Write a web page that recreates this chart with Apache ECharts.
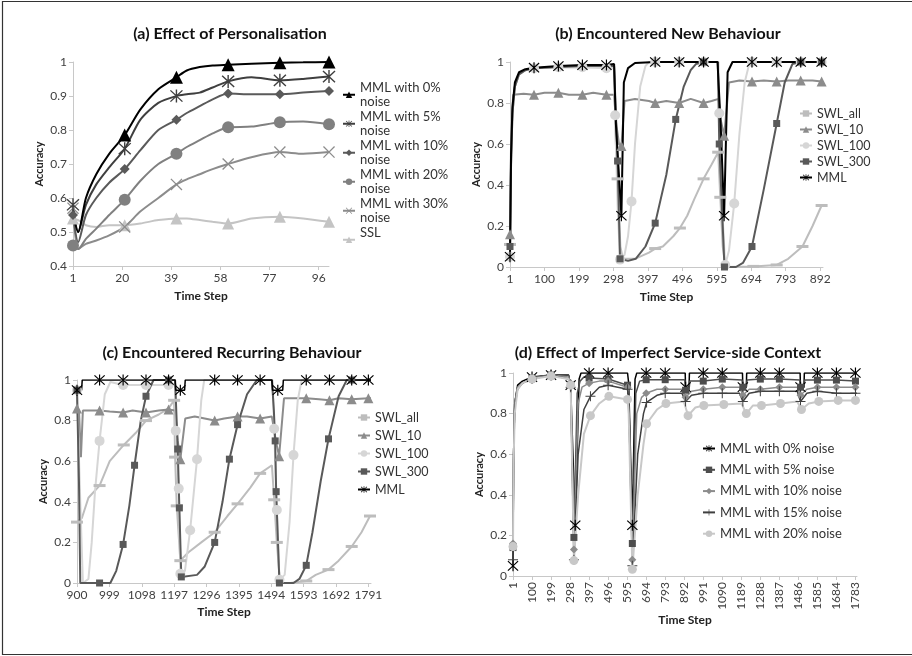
<!DOCTYPE html>
<html>
<head>
<meta charset="utf-8">
<script src="https://cdn.jsdelivr.net/npm/echarts@6/dist/echarts.min.js"></script>
<style>
  html, body { margin: 0; padding: 0; background: #fff; }
  #chart { width: 912px; height: 656px; }
</style>
</head>
<body>
<div id="chart"></div>
<script>
// fonts / colours
const FONT = 'Lato, "Open Sans", sans-serif';
const AXIS_GREY = '#c8c8c8';
const LABEL = '#404040';

// excel-like markers
const STAR = 'path://M9,0L11,0L11,20L9,20Z M0.7,2.1L2.1,0.7L19.3,17.9L17.9,19.3Z M17.9,0.7L19.3,2.1L2.1,19.3L0.7,17.9Z';
const CROSS = 'path://M0.7,2.1L2.1,0.7L19.3,17.9L17.9,19.3Z M17.9,0.7L19.3,2.1L2.1,19.3L0.7,17.9Z';
const PLUS = 'path://M9,0L11,0L11,20L9,20Z M0,9L20,9L20,11L0,11Z';

// ---- (a) Effect of Personalisation ----
const aSteps = [1, 3, 6, 10, 15, 21, 27, 34, 41, 45, 50, 55, 61, 70, 81, 90, 100];
const aMarks = [1, 21, 41, 61, 81, 100];
const aMarks0 = [21, 41, 61, 81, 100];
const aMml0  = [0.55, 0.50, 0.60, 0.67, 0.73, 0.785, 0.86, 0.92, 0.955, 0.975, 0.985, 0.99, 0.992, 0.995, 0.998, 0.999, 1.0];
const aMml5  = [0.58, 0.50, 0.58, 0.64, 0.69, 0.745, 0.83, 0.88, 0.90, 0.905, 0.91, 0.925, 0.943, 0.955, 0.946, 0.95, 0.957];
const aMml10 = [0.55, 0.47, 0.55, 0.60, 0.645, 0.685, 0.74, 0.80, 0.83, 0.85, 0.87, 0.89, 0.907, 0.905, 0.905, 0.91, 0.915];
const aMml20 = [0.46, 0.45, 0.48, 0.51, 0.55, 0.595, 0.65, 0.70, 0.73, 0.75, 0.77, 0.79, 0.808, 0.81, 0.823, 0.825, 0.817];
const aMml30 = [0.57, 0.45, 0.465, 0.475, 0.49, 0.515, 0.56, 0.60, 0.64, 0.655, 0.67, 0.685, 0.70, 0.72, 0.735, 0.73, 0.735];
const aSsl   = [0.54, 0.535, 0.52, 0.515, 0.52, 0.52, 0.525, 0.535, 0.54, 0.54, 0.535, 0.53, 0.525, 0.54, 0.545, 0.54, 0.53];

// ---- (b) Encountered New Behaviour ----
const bAllSteps = [1, 4, 8, 15, 27, 45, 70, 140, 209, 278, 300, 305, 310, 318, 325, 360, 400, 418, 440, 470, 489, 510, 530, 557, 580, 599, 602, 605, 612, 620, 700, 767, 800, 841, 870, 896, 900];
const bAllVals  = [0.11, 0.5, 0.75, 0.88, 0.94, 0.96, 0.97, 0.975, 0.975, 0.975, 0.975, 0.6, 0.43, 0.1, 0.04, 0.04, 0.07, 0.09, 0.1, 0.15, 0.19, 0.25, 0.33, 0.43, 0.5, 0.56, 0.45, 0.34, 0.1, 0.0, 0.003, 0.01, 0.04, 0.1, 0.2, 0.3, 0.3];
const bAllMarks = [1, 310, 418, 489, 557, 599, 605, 700, 767, 841, 896];

const b10Steps = [1, 4, 10, 40, 70, 100, 140, 170, 209, 240, 278, 300, 306, 314, 321, 330, 360, 400, 418, 450, 487, 520, 557, 580, 600, 606, 616, 630, 660, 696, 730, 767, 800, 836, 870, 896, 900];
const b10Vals  = [0.16, 0.6, 0.84, 0.845, 0.84, 0.85, 0.85, 0.84, 0.84, 0.85, 0.84, 0.84, 0.7, 0.6, 0.59, 0.81, 0.82, 0.81, 0.8, 0.81, 0.8, 0.82, 0.8, 0.81, 0.82, 0.72, 0.64, 0.9, 0.91, 0.905, 0.91, 0.905, 0.91, 0.91, 0.91, 0.905, 0.9];
const b10Marks = [1, 70, 140, 209, 278, 321, 418, 487, 557, 616, 696, 767, 836, 896];

const b100Steps = [1, 4, 8, 15, 27, 45, 70, 140, 209, 278, 300, 303, 310, 317, 330, 340, 350, 360, 375, 390, 400, 418, 487, 557, 600, 602, 610, 619, 630, 645, 660, 675, 688, 696, 767, 836, 896, 900];
const b100Vals  = [0.05, 0.5, 0.75, 0.88, 0.94, 0.96, 0.97, 0.975, 0.975, 0.97, 0.97, 0.74, 0.3, 0.036, 0.06, 0.15, 0.32, 0.6, 0.88, 0.98, 1, 1, 1, 1, 1, 0.75, 0.3, 0.01, 0.08, 0.31, 0.65, 0.9, 0.99, 1, 1, 1, 1, 1];
const b100Marks = [1, 70, 140, 209, 278, 303, 317, 350, 418, 487, 557, 602, 619, 645, 696, 767, 836, 896];

const b300Steps = [1, 4, 8, 15, 27, 45, 70, 140, 209, 278, 300, 310, 317, 340, 362, 390, 418, 450, 477, 500, 520, 535, 557, 598, 602, 617, 650, 670, 696, 730, 767, 790, 812, 836, 896, 900];
const b300Vals  = [0.1, 0.5, 0.75, 0.88, 0.94, 0.96, 0.97, 0.975, 0.98, 0.98, 0.98, 0.517, 0.04, 0.03, 0.04, 0.1, 0.214, 0.45, 0.72, 0.88, 0.96, 0.99, 1, 1, 0.6, 0.0, 0.0, 0.02, 0.1, 0.38, 0.70, 0.9, 0.99, 1, 1, 1];
const b300Marks = [1, 310, 317, 418, 477, 557, 602, 617, 696, 767, 836, 896];

const bMmlSteps = [1, 4, 8, 15, 27, 45, 70, 140, 209, 278, 300, 305, 321, 328, 340, 360, 418, 487, 557, 597, 606, 616, 626, 640, 696, 767, 836, 896, 900];
const bMmlVals  = [0.05, 0.55, 0.78, 0.9, 0.95, 0.965, 0.972, 0.98, 0.985, 0.985, 0.99, 0.7, 0.25, 0.9, 0.97, 0.995, 1, 1, 1, 1, 0.7, 0.25, 0.95, 1, 1, 1, 1, 1, 1];
const bMmlMarks = [1, 70, 140, 209, 278, 321, 418, 487, 557, 616, 696, 767, 836, 896];

// ---- (c) Encountered Recurring Behaviour ----
const cAllSteps = [900, 915, 935, 969, 1000, 1043, 1080, 1111, 1150, 1180, 1197, 1200, 1205, 1216, 1240, 1280, 1321, 1360, 1391, 1430, 1460, 1496, 1503, 1511, 1521, 1552, 1601, 1630, 1669, 1700, 1740, 1770, 1796, 1799];
const cAllVals  = [0.30, 0.32, 0.42, 0.48, 0.6, 0.68, 0.74, 0.80, 0.83, 0.86, 0.90, 0.62, 0.38, 0.11, 0.15, 0.2, 0.25, 0.33, 0.39, 0.47, 0.54, 0.58, 0.41, 0.2, 0.0, 0.0, 0.01, 0.04, 0.066, 0.11, 0.18, 0.25, 0.33, 0.33];
const cAllMarks = [900, 969, 1043, 1111, 1197, 1200, 1205, 1216, 1321, 1391, 1460, 1503, 1511, 1601, 1669, 1740, 1796];

const c10Steps = [900, 906, 912, 918, 969, 1000, 1041, 1070, 1111, 1150, 1180, 1200, 1208, 1216, 1231, 1260, 1321, 1350, 1391, 1420, 1460, 1496, 1508, 1518, 1533, 1560, 1601, 1640, 1672, 1700, 1740, 1791, 1799];
const c10Vals  = [0.86, 0.85, 0.62, 0.85, 0.85, 0.845, 0.84, 0.85, 0.84, 0.85, 0.855, 0.85, 0.7, 0.61, 0.81, 0.82, 0.80, 0.81, 0.82, 0.82, 0.81, 0.82, 0.7, 0.625, 0.91, 0.91, 0.91, 0.905, 0.90, 0.91, 0.905, 0.91, 0.91];
const c10Marks = [900, 969, 1041, 1111, 1180, 1216, 1321, 1391, 1460, 1518, 1601, 1672, 1740, 1791];

const c100Steps = [900, 910, 918, 935, 945, 955, 969, 985, 1002, 1041, 1111, 1180, 1200, 1202, 1211, 1216, 1230, 1246, 1267, 1280, 1289, 1321, 1391, 1460, 1498, 1503, 1511, 1519, 1535, 1550, 1562, 1575, 1587, 1601, 1672, 1740, 1791, 1799];
const c100Vals  = [0.95, 0.4, 0.0, 0.02, 0.2, 0.45, 0.70, 0.93, 0.99, 0.975, 0.975, 0.975, 0.975, 0.75, 0.465, 0.046, 0.06, 0.26, 0.61, 0.9, 1.0, 1, 1, 1, 1, 0.76, 0.36, 0.016, 0.04, 0.3, 0.63, 0.9, 1.0, 1, 1, 1, 1, 1];
const c100Marks = [900, 969, 1041, 1111, 1180, 1202, 1211, 1216, 1246, 1267, 1503, 1511, 1519, 1562];

const c300Steps = [900, 906, 910, 969, 1002, 1020, 1041, 1060, 1076, 1095, 1111, 1134, 1180, 1200, 1208, 1213, 1219, 1267, 1290, 1321, 1345, 1366, 1391, 1420, 1450, 1496, 1502, 1506, 1509, 1519, 1562, 1580, 1601, 1620, 1645, 1669, 1700, 1725, 1740, 1791, 1799];
const c300Vals  = [0.95, 0.5, 0.0, 0.0, 0.0, 0.06, 0.19, 0.38, 0.58, 0.8, 0.92, 1.0, 1.0, 1.0, 0.66, 0.37, 0.03, 0.04, 0.08, 0.2, 0.4, 0.61, 0.78, 0.93, 1.0, 1.0, 0.85, 0.70, 0.45, 0.0, 0.0, 0.02, 0.087, 0.25, 0.5, 0.71, 0.92, 1.0, 1.0, 1.0, 1.0];
const c300Marks = [900, 969, 1041, 1076, 1111, 1180, 1208, 1213, 1219, 1321, 1366, 1391, 1506, 1509, 1519, 1601, 1669, 1740];

const cMmlSteps = [900, 914, 916, 969, 1041, 1111, 1180, 1200, 1202, 1216, 1229, 1231, 1321, 1391, 1460, 1496, 1498, 1514, 1529, 1531, 1601, 1672, 1740, 1791, 1799];
const cMmlVals  = [0.95, 0.95, 1, 1, 1, 1, 1, 1, 0.95, 0.95, 0.95, 1, 1, 1, 1, 1, 0.95, 0.95, 0.95, 1, 1, 1, 1, 1, 1];
const cMmlMarks = [900, 969, 1041, 1111, 1180, 1216, 1321, 1391, 1460, 1514, 1601, 1672, 1740, 1791];

// ---- (d) Effect of Imperfect Service-side Context ----
const d0Steps = [1, 4, 10, 25, 50, 100, 199, 290, 301, 325, 345, 355, 397, 496, 597, 603, 622, 636, 645, 694, 793, 897, 899, 917, 919, 991, 1090, 1195, 1197, 1215, 1217, 1288, 1387, 1495, 1497, 1515, 1517, 1585, 1684, 1783, 1791];
const d0Vals  = [0.05, 0.6, 0.85, 0.94, 0.96, 0.98, 0.99, 0.99, 0.94, 0.25, 0.97, 1, 1, 1, 1, 0.95, 0.25, 0.97, 1, 1, 1, 1, 0.93, 0.93, 1, 1, 1, 1, 0.93, 0.93, 1, 1, 1, 1, 0.93, 0.93, 1, 1, 1, 1, 1];
const d0Marks = [1, 100, 199, 301, 325, 397, 496, 622, 694, 793, 899, 991, 1090, 1197, 1288, 1387, 1497, 1585, 1684, 1783];

const d5Steps = [1, 4, 10, 25, 50, 100, 199, 290, 301, 318, 335, 350, 370, 397, 496, 597, 603, 622, 640, 660, 694, 793, 895, 899, 917, 921, 991, 1090, 1193, 1197, 1215, 1219, 1288, 1387, 1493, 1497, 1515, 1519, 1585, 1684, 1783, 1791];
const d5Vals  = [0.14, 0.6, 0.85, 0.93, 0.95, 0.975, 0.99, 0.99, 0.94, 0.19, 0.9, 0.96, 0.98, 0.975, 0.97, 0.94, 0.9, 0.16, 0.9, 0.96, 0.967, 0.967, 0.967, 0.915, 0.915, 0.96, 0.96, 0.97, 0.965, 0.93, 0.93, 0.965, 0.97, 0.97, 0.965, 0.93, 0.93, 0.965, 0.965, 0.965, 0.96, 0.96];
const d5Marks = [1, 100, 199, 301, 318, 397, 496, 597, 622, 694, 793, 899, 991, 1090, 1197, 1288, 1387, 1497, 1585, 1684, 1783];

const d10Steps = [1, 4, 10, 25, 50, 100, 199, 290, 301, 318, 340, 360, 397, 450, 496, 597, 603, 622, 645, 670, 694, 750, 793, 880, 899, 930, 991, 1090, 1180, 1197, 1230, 1288, 1387, 1480, 1497, 1530, 1585, 1684, 1783, 1791];
const d10Vals  = [0.16, 0.6, 0.85, 0.93, 0.95, 0.975, 0.99, 0.98, 0.95, 0.13, 0.85, 0.93, 0.95, 0.96, 0.96, 0.93, 0.88, 0.08, 0.8, 0.88, 0.9, 0.92, 0.92, 0.92, 0.88, 0.91, 0.92, 0.93, 0.93, 0.89, 0.92, 0.92, 0.93, 0.93, 0.89, 0.92, 0.93, 0.93, 0.93, 0.93];
const d10Marks = [1, 100, 199, 301, 318, 397, 496, 597, 622, 694, 793, 899, 991, 1090, 1197, 1288, 1387, 1497, 1585, 1684, 1783];

const d15Steps = [1, 4, 10, 25, 50, 100, 199, 290, 301, 318, 340, 370, 404, 450, 496, 597, 603, 622, 650, 680, 696, 750, 793, 880, 899, 930, 991, 1090, 1180, 1197, 1230, 1288, 1387, 1480, 1497, 1530, 1585, 1684, 1783, 1791];
const d15Vals  = [0.08, 0.55, 0.83, 0.92, 0.95, 0.97, 0.99, 0.97, 0.93, 0.08, 0.6, 0.82, 0.885, 0.93, 0.94, 0.92, 0.88, 0.05, 0.6, 0.8, 0.855, 0.89, 0.9, 0.9, 0.86, 0.89, 0.9, 0.9, 0.9, 0.86, 0.9, 0.91, 0.91, 0.91, 0.86, 0.9, 0.91, 0.9, 0.9, 0.9];
const d15Marks = [1, 100, 199, 301, 318, 404, 496, 597, 622, 696, 793, 899, 991, 1090, 1197, 1288, 1387, 1497, 1585, 1684, 1783];

const d20Steps = [1, 4, 10, 25, 50, 100, 199, 290, 301, 318, 340, 370, 404, 450, 500, 597, 603, 622, 650, 680, 696, 750, 797, 890, 912, 950, 994, 1098, 1190, 1215, 1250, 1294, 1393, 1480, 1502, 1540, 1592, 1693, 1783, 1791];
const d20Vals  = [0.145, 0.55, 0.8, 0.92, 0.95, 0.97, 0.985, 0.97, 0.94, 0.076, 0.4, 0.7, 0.79, 0.85, 0.885, 0.87, 0.8, 0.033, 0.4, 0.65, 0.75, 0.82, 0.85, 0.86, 0.79, 0.83, 0.84, 0.845, 0.85, 0.80, 0.84, 0.84, 0.85, 0.86, 0.82, 0.85, 0.86, 0.865, 0.865, 0.865];
const d20Marks = [1, 100, 199, 301, 318, 404, 500, 597, 622, 696, 797, 912, 994, 1098, 1215, 1294, 1393, 1502, 1592, 1693, 1783];

// x axes are shifted so ticks start at 0; labels add the first step back
const START = [1, 1, 900, 1];

function mk(name, ax, steps, vals, marks, color, symbol, size, width, smooth) {
    return {
        name: name,
        type: 'line',
        xAxisIndex: ax,
        yAxisIndex: ax,
        data: steps.map(function (s, i) {
            const d = { value: [s - START[ax], vals[i]] };
            if (marks.indexOf(s) < 0) d.symbol = 'none';
            return d;
        }),
        symbol: symbol,
        symbolSize: size,
        showAllSymbol: true,
        smooth: smooth || false,
        lineStyle: { color: color, width: width },
        itemStyle: { color: color, borderWidth: 0 },
        emphasis: { disabled: true },
        animation: false
    };
}

function xAx(ax, max, interval, gap, rotate) {
    return {
        type: 'value', gridIndex: ax, min: 0, max: max, interval: interval,
        name: 'Time Step', nameLocation: 'middle', nameGap: gap,
        nameTextStyle: { fontFamily: FONT, fontWeight: 'bold', fontSize: 12, color: '#222' },
        axisLine: { lineStyle: { color: AXIS_GREY } },
        axisTick: { length: 4, lineStyle: { color: AXIS_GREY } },
        splitLine: { show: false },
        axisLabel: {
            fontFamily: FONT, fontSize: 12, color: LABEL, margin: 6,
            rotate: rotate || 0, showMaxLabel: false,
            formatter: function (v) { return String(v + START[ax]); }
        }
    };
}

function yAx(ax, min, interval) {
    return {
        type: 'value', gridIndex: ax, min: min, max: 1, interval: interval,
        name: 'Accuracy', nameLocation: 'middle', nameGap: 28,
        nameTextStyle: { fontFamily: FONT, fontWeight: 'bold', fontSize: 11, color: '#222' },
        axisLine: { show: true, lineStyle: { color: AXIS_GREY } },
        axisTick: { show: true, length: 4, lineStyle: { color: AXIS_GREY } },
        splitLine: { show: false },
        axisLabel: { fontFamily: FONT, fontSize: 12, color: LABEL, margin: 6 }
    };
}

function ttl(text, cx, top) {
    return {
        text: text, left: cx, top: top, textAlign: 'center', padding: 0,
        textStyle: { fontFamily: FONT, fontWeight: 'bold', fontSize: 16, color: '#111' }
    };
}

// (a) legend wraps "noise" onto a second line, like the original
const aNames = ['MML with 0%\nnoise', 'MML with 5%\nnoise', 'MML with 10%\nnoise', 'MML with 20%\nnoise', 'MML with 30%\nnoise', 'SSL\n '];
const swlNames = ['SWL_all', 'SWL_10', 'SWL_100', 'SWL_300'];
const dNames = ['MML with 0% noise', 'MML with 5% noise', 'MML with 10% noise', 'MML with 15% noise', 'MML with 20% noise'];

const legendText = { fontFamily: FONT, fontSize: 12.5, color: '#333' };

const option = {
    backgroundColor: '#fff',
    animation: false,
    title: [
        ttl('(a) Effect of Personalisation', 230, 26),
        ttl('(b) Encountered New Behaviour', 668, 26),
        ttl('(c) Encountered Recurring Behaviour', 232, 345),
        ttl('(d) Effect of Imperfect Service-side Context', 668, 345)
    ],
    grid: [
        { left: 73, top: 62, width: 256, height: 204 },
        { left: 510, top: 62, width: 313, height: 205 },
        { left: 77, top: 380, width: 294, height: 203 },
        { left: 513, top: 373, width: 344, height: 203 }
    ],
    xAxis: [
        xAx(0, 99, 19, 24),
        xAx(1, 899, 99, 24),
        xAx(2, 899, 99, 23),
        xAx(3, 1790, 99, 34, 90)
    ],
    yAxis: [
        yAx(0, 0.4, 0.1),
        yAx(1, 0, 0.2),
        yAx(2, 0, 0.2),
        yAx(3, 0, 0.2)
    ],
    legend: [
        {
            data: aNames, orient: 'vertical', left: 342, top: 73, padding: 0, itemGap: -14.5,
            itemWidth: 12, itemHeight: 8, selectedMode: false,
            textStyle: Object.assign({}, legendText, { fontSize: 13, lineHeight: 14.5, padding: [14.5, 0, 0, 0] })
        },
        {
            data: swlNames.concat(['MML']), orient: 'vertical', left: 799, top: 107, padding: 0, itemGap: 3,
            itemWidth: 12, itemHeight: 8, selectedMode: false, textStyle: legendText
        },
        {
            data: swlNames.concat(['MML ']), orient: 'vertical', left: 357, top: 411, padding: 0, itemGap: 5,
            itemWidth: 12, itemHeight: 8, selectedMode: false, textStyle: legendText
        },
        {
            data: dNames, orient: 'vertical', left: 702, top: 442, padding: 0, itemGap: 8.3,
            itemWidth: 12, itemHeight: 8, selectedMode: false,
            textStyle: Object.assign({}, legendText, { fontSize: 13 })
        }
    ],
    series: [
        // (a) drawn light to dark so the 0% line sits on top
        mk(aNames[5], 0, aSteps, aSsl, aMarks, '#c4c4c4', 'triangle', 12, 2, 0.25),
        mk(aNames[4], 0, aSteps, aMml30, aMarks, '#8c8c8c', CROSS, 12, 2, 0.25),
        mk(aNames[3], 0, aSteps, aMml20, aMarks, '#808080', 'circle', 12, 2, 0.25),
        mk(aNames[2], 0, aSteps, aMml10, aMarks, '#5a5a5a', 'diamond', 10, 2, 0.25),
        mk(aNames[1], 0, aSteps, aMml5, aMarks, '#3f3f3f', STAR, 13, 2, 0.25),
        mk(aNames[0], 0, aSteps, aMml0, aMarks0, '#000000', 'triangle', 13, 2, 0.25),
        // (b)
        mk('SWL_all', 1, bAllSteps, bAllVals, bAllMarks, '#bdbdbd', 'rect', [12, 3], 2),
        mk('SWL_10', 1, b10Steps, b10Vals, b10Marks, '#8c8c8c', 'triangle', 10, 2),
        mk('SWL_100', 1, b100Steps, b100Vals, b100Marks, '#d6d6d6', 'circle', 10, 2),
        mk('SWL_300', 1, b300Steps, b300Vals, b300Marks, '#595959', 'rect', 7, 2),
        mk('MML', 1, bMmlSteps, bMmlVals, bMmlMarks, '#000000', STAR, 11, 2),
        // (c)
        mk('SWL_all', 2, cAllSteps, cAllVals, cAllMarks, '#bdbdbd', 'rect', [12, 3], 2),
        mk('SWL_10', 2, c10Steps, c10Vals, c10Marks, '#8c8c8c', 'triangle', 10, 2),
        mk('SWL_100', 2, c100Steps, c100Vals, c100Marks, '#d6d6d6', 'circle', 10, 2),
        mk('SWL_300', 2, c300Steps, c300Vals, c300Marks, '#595959', 'rect', 7, 2),
        mk('MML ', 2, cMmlSteps, cMmlVals, cMmlMarks, '#000000', STAR, 11, 1.5),
        // (d)
        mk(dNames[0], 3, d0Steps, d0Vals, d0Marks, '#000000', STAR, 11, 1.5),
        mk(dNames[1], 3, d5Steps, d5Vals, d5Marks, '#4d4d4d', 'rect', 7, 1.5),
        mk(dNames[2], 3, d10Steps, d10Vals, d10Marks, '#8c8c8c', 'diamond', 8, 1.5),
        mk(dNames[3], 3, d15Steps, d15Vals, d15Marks, '#404040', PLUS, 10, 1.5),
        mk(dNames[4], 3, d20Steps, d20Vals, d20Marks, '#c8c8c8', 'circle', 9, 2)
    ],
    graphic: [
        {
            type: 'rect', silent: true,
            shape: { x: 2.5, y: 1.5, width: 1000, height: 653 },
            style: { fill: 'none', stroke: '#333', lineWidth: 1.2 }
        }
    ]
};

const chart = echarts.init(document.getElementById('chart'), null, { renderer: 'canvas' });
chart.setOption(option);
</script>
</body>
</html>
